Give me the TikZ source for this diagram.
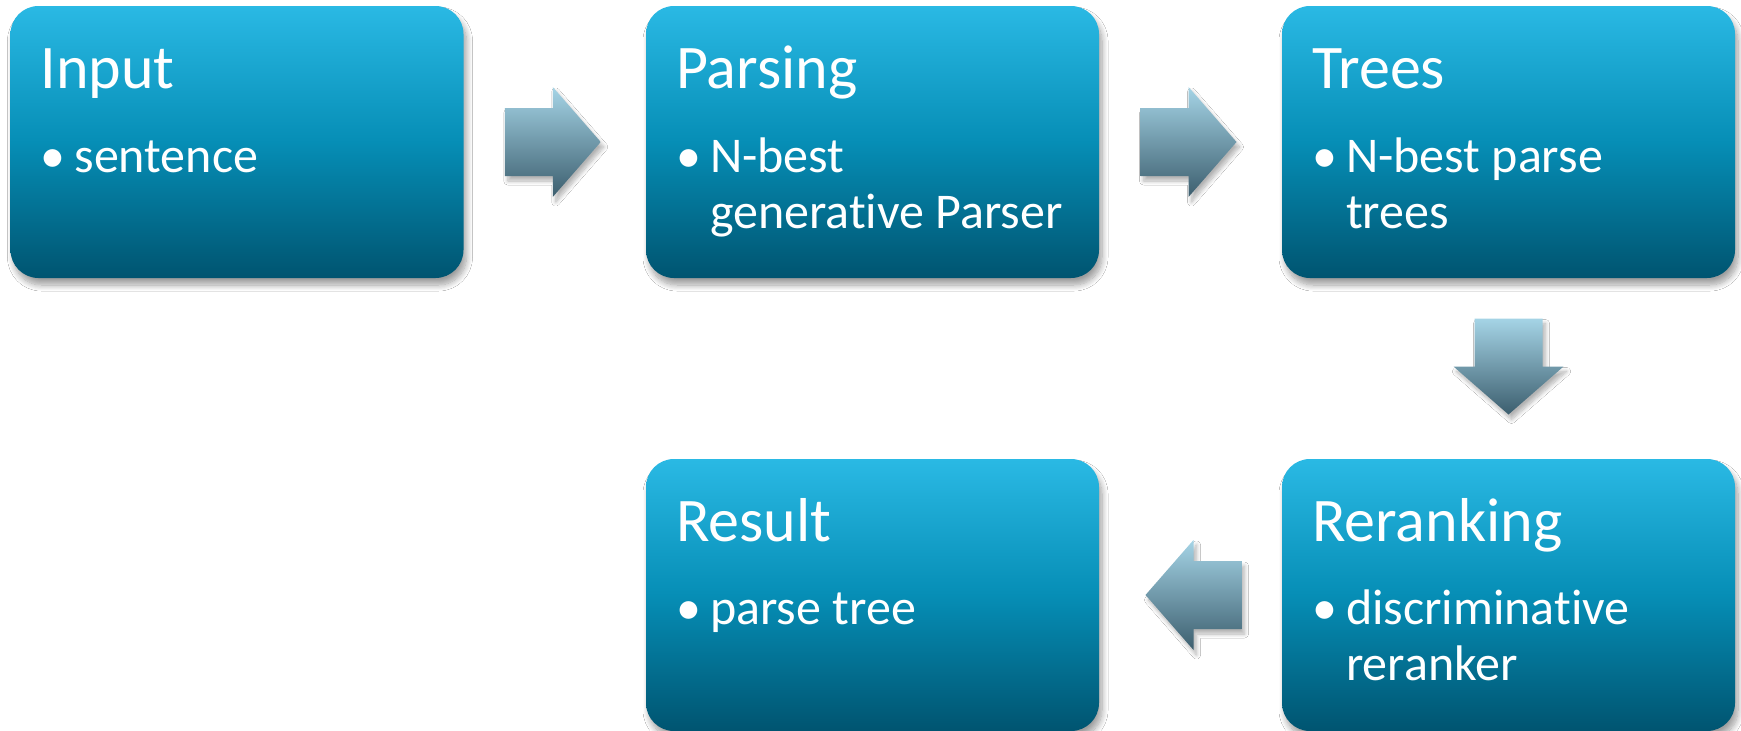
\documentclass[tikz,border=0pt]{standalone}
\usepackage{fontspec}
\setmainfont{Carlito}[RawFeature=-liga]
\usetikzlibrary{calc,shadows.blur}
\definecolor{boxtop}{RGB}{42,185,228}
\definecolor{boxmid}{RGB}{6,142,182}
\definecolor{boxbot}{RGB}{0,84,112}
\definecolor{arrtop}{RGB}{165,212,230}
\definecolor{arrbot}{RGB}{60,94,110}
\begin{document}
\begin{tikzpicture}[x=1pt,y=-1pt,
  stage/.style={rounded corners=28pt, minimum width=453pt, minimum height=272pt,
    inner sep=0pt, draw=none, top color=boxtop, bottom color=boxbot, middle color=boxmid,
    blur shadow={shadow xshift=3pt, shadow yshift=-7pt, shadow blur radius=6pt,
      shadow blur steps=12, shadow opacity=38}},
  heading/.style={anchor=base west, inner sep=0pt, text=white,
    font=\fontsize{62}{74}\selectfont},
  item/.style={anchor=base west, inner sep=0pt, text=white,
    font=\fontsize{50}{55.5}\selectfont},
  arrowfill/.style={draw=none, top color=arrtop, bottom color=arrbot,
    blur shadow={shadow xshift=3pt, shadow yshift=-5pt, shadow blur radius=4pt,
      shadow blur steps=10, shadow opacity=30}},
  pics/fatright/.style={code={\path[arrowfill] (-48,-34) -- (0,-34) -- (0,-55) -- (48,0)
      -- (0,55) -- (0,34) -- (-48,34) -- cycle;}},
  pics/fatleft/.style={code={\path[arrowfill] (48,-34) -- (0,-34) -- (0,-55) -- (-48,0)
      -- (0,55) -- (0,34) -- (48,34) -- cycle;}},
  pics/fatdown/.style={code={\path[arrowfill] (-34,-48) -- (34,-48) -- (34,0) -- (55,0)
      -- (0,48) -- (-55,0) -- (-34,0) -- cycle;}}
]
\fill[white] (0,0) rectangle (1741,731);
\useasboundingbox (0,0) rectangle (1741,731);

% stages
\node[stage] (input)   at (237,142)    {};
\node[stage] (parsing) at (872.5,142)  {};
\node[stage] (trees)   at (1508.5,142) {};
\node[stage] (rerank)  at (1508.5,595) {};
\node[stage] (result)  at (872.5,595)  {};

% block arrows between stages
\coordinate (a1) at ($(input.east)!0.5!(parsing.west)+(-2,0)$);
\coordinate (a2) at ($(parsing.east)!0.5!(trees.west)+(-2,0)$);
\coordinate (a3) at ($(trees.south)!0.5!(rerank.north)+(0,-2)$);
\coordinate (a4) at ($(rerank.west)!0.5!(result.east)+(3,0)$);
\pic at (a1) {fatright};
\pic at (a2) {fatright};
\pic at (a3) {fatdown};
\pic at (a4) {fatleft};

% Input
\node[heading] (input-h) at ($(input.north west)+(30,83)$) {Input};
\node[item] (input-d) at ($(input.north west)+(30,167)$) {•};
\node[item] (input-t) at ($(input.north west)+(64,167)$) {sentence};

% Parsing
\node[heading] (parsing-h) at ($(parsing.north west)+(30,83)$) {Parsing};
\node[item] (parsing-d) at ($(parsing.north west)+(30,167)$) {•};
\node[item] (parsing-t) at ($(parsing.north west)+(64,167)$)
  {\begin{tabular}[t]{@{}l@{}}N-best\\generative Parser\end{tabular}};

% Trees
\node[heading] (trees-h) at ($(trees.north west)+(30,83)$) {Trees};
\node[item] (trees-d) at ($(trees.north west)+(30,167)$) {•};
\node[item] (trees-t) at ($(trees.north west)+(64,167)$)
  {\begin{tabular}[t]{@{}l@{}}N-best parse\\trees\end{tabular}};

% Reranking
\node[heading] (rerank-h) at ($(rerank.north west)+(30,83)$) {Reranking};
\node[item] (rerank-d) at ($(rerank.north west)+(30,166)$) {•};
\node[item] (rerank-t) at ($(rerank.north west)+(64,166)$)
  {\begin{tabular}[t]{@{}l@{}}discriminative\\reranker\end{tabular}};

% Result
\node[heading] (result-h) at ($(result.north west)+(30,83)$) {Result};
\node[item] (result-d) at ($(result.north west)+(30,166)$) {•};
\node[item] (result-t) at ($(result.north west)+(64,166)$) {parse tree};
\end{tikzpicture}
\end{document}
